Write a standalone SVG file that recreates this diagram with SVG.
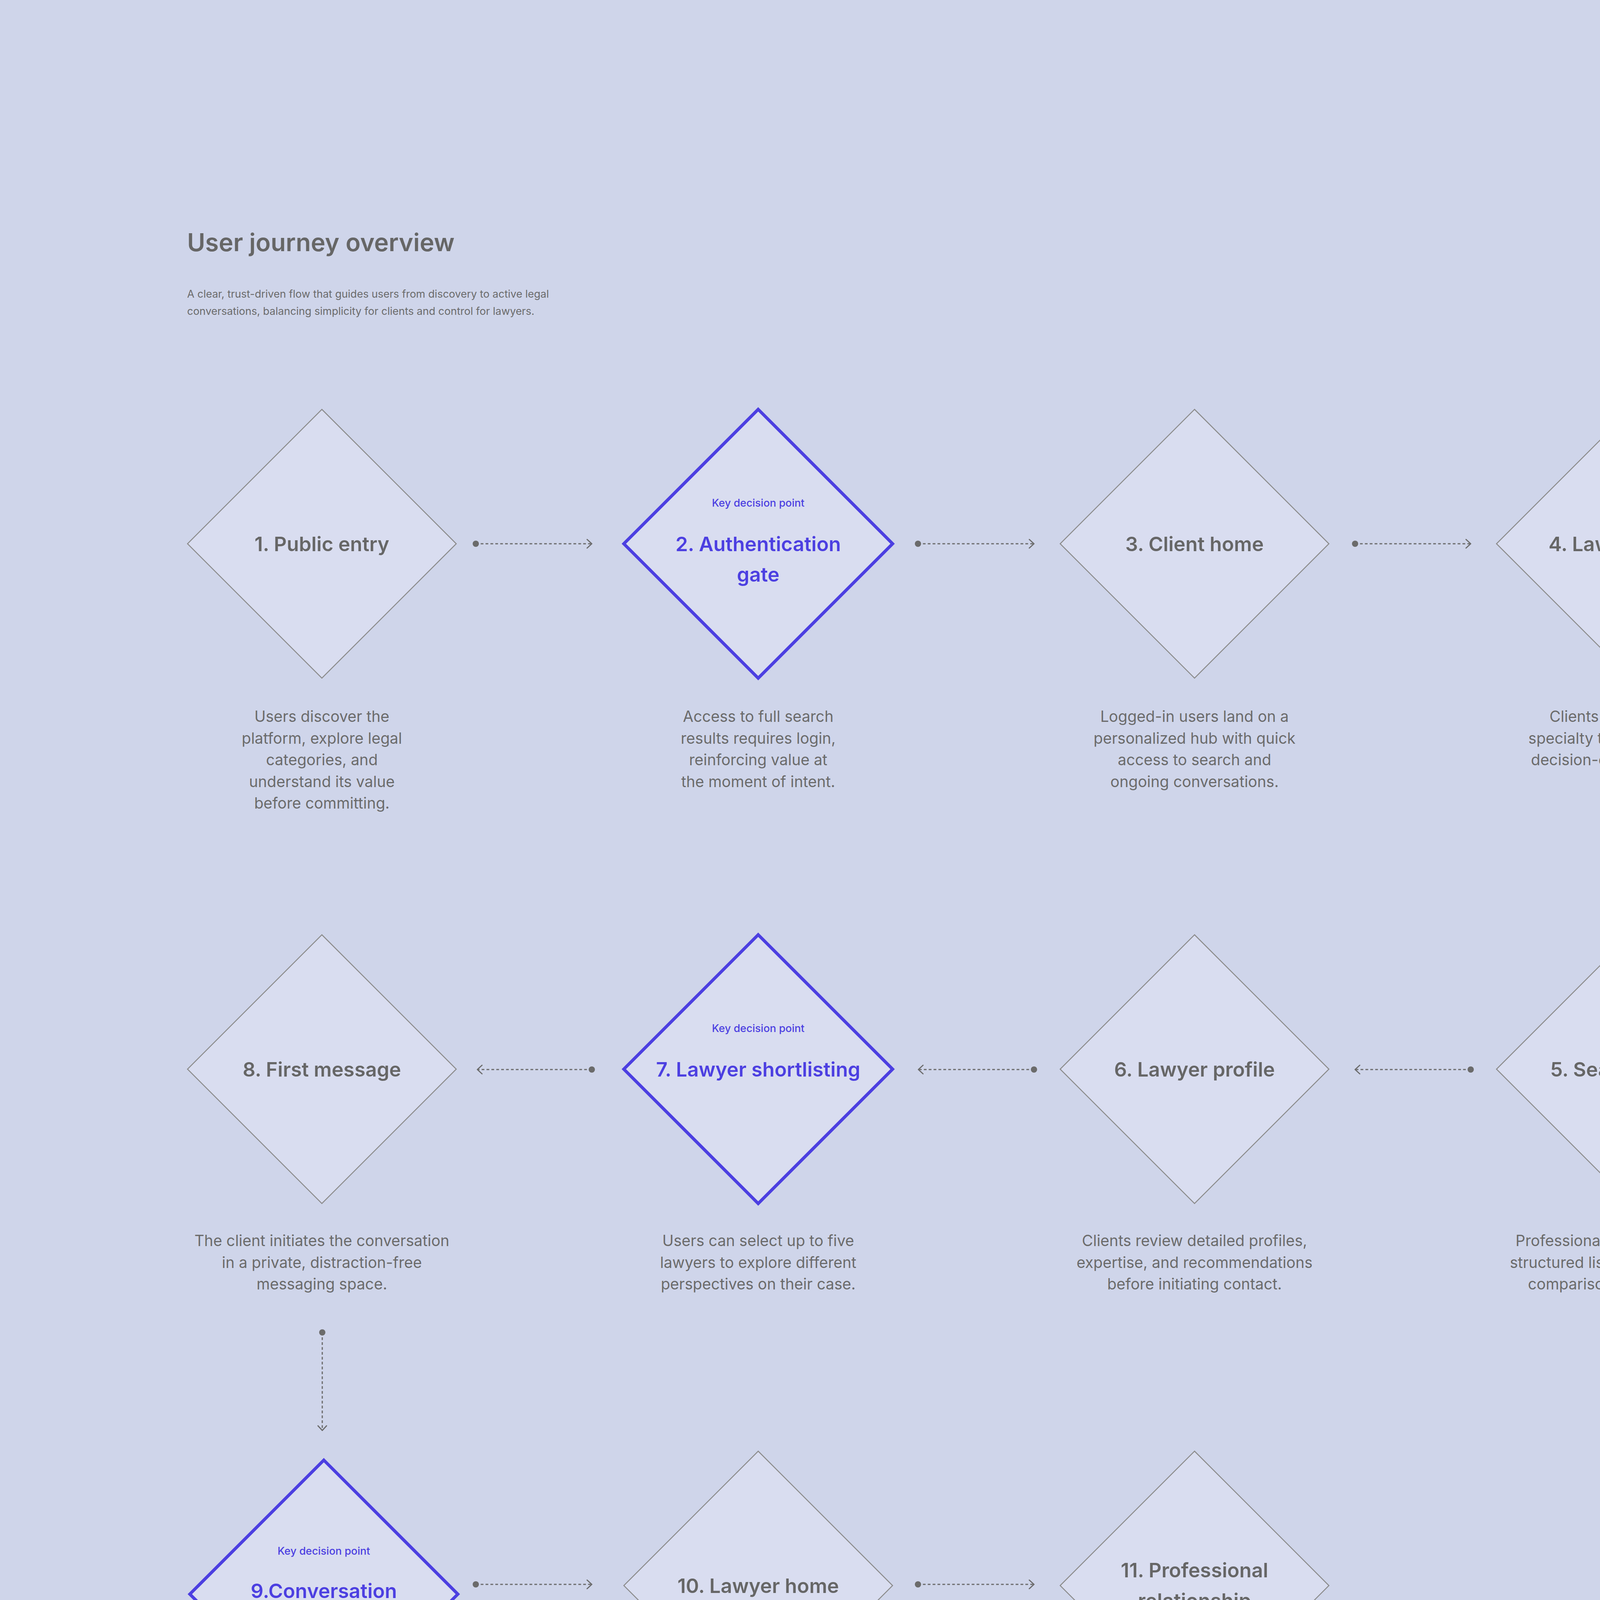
<svg xmlns="http://www.w3.org/2000/svg" width="5000" height="5234" viewBox="0 0 5000 5234">
<style>
.bg{fill:#cfd5ea}
.dia{fill:#d9ddf0;stroke:#8c8c8c;stroke-width:2.5}
.key{fill:#d9ddf0;stroke:#4c3fe1;stroke-width:8}
.lbl{font-family:Inter,"Liberation Sans",sans-serif;font-size:51px;font-weight:600;fill:#666666;text-anchor:middle}
.klbl{font-family:Inter,"Liberation Sans",sans-serif;font-size:51px;font-weight:600;fill:#4c3fe1;text-anchor:middle}
.ktag{font-family:Inter,"Liberation Sans",sans-serif;font-size:27px;font-weight:500;fill:#4c3fe1;text-anchor:middle}
.desc{font-family:Inter,"Liberation Sans",sans-serif;font-size:39px;font-weight:400;fill:#6b6b6b;text-anchor:middle}
.title{font-family:Inter,"Liberation Sans",sans-serif;font-size:63px;font-weight:600;fill:#666666}
.sub{font-family:Inter,"Liberation Sans",sans-serif;font-size:27px;font-weight:400;fill:#6b6b6b}
.conn{fill:none;stroke:#6b6b6b;stroke-width:3;stroke-dasharray:7 5.5;marker-start:url(#dot);marker-end:url(#arr)}
</style>
<defs>
<marker id="dot" markerUnits="userSpaceOnUse" markerWidth="20" markerHeight="20" viewBox="-10 -10 20 20" refX="0" refY="0" orient="auto">
<circle cx="0" cy="0" r="8" fill="#6b6b6b"/>
</marker>
<marker id="arr" markerUnits="userSpaceOnUse" markerWidth="30" markerHeight="30" viewBox="-15 -15 30 30" refX="0" refY="0" orient="auto">
<path d="M-12,-11 L0,0 L-12,11" fill="none" stroke="#6b6b6b" stroke-width="3" stroke-linecap="round" stroke-linejoin="round"/>
</marker>
</defs>
<rect class="bg" x="0" y="0" width="5000" height="5234"/>

<g id="header">
<text class="title" x="479" y="643">User journey overview</text>
<text class="sub" x="479" y="762">A clear, trust-driven flow that guides users from discovery to active legal</text>
<text class="sub" x="479" y="806">conversations, balancing simplicity for clients and control for lawyers.</text>
</g>

<g id="connectors">
<path class="conn" d="M1218,1392 L1515,1392"/>
<path class="conn" d="M2350,1392 L2647,1392"/>
<path class="conn" d="M3469,1392 L3765,1392"/>
<path class="conn" d="M4175,2002 L4175,2297"/>
<path class="conn" d="M3765,2738 L3469,2738"/>
<path class="conn" d="M2647,2738 L2351,2738"/>
<path class="conn" d="M1515,2738 L1222,2738"/>
<path class="conn" d="M825,3411 L825,3662"/>
<path class="conn" d="M1218,4056 L1515,4056"/>
<path class="conn" d="M2350,4056 L2647,4056"/>
</g>

<g id="node1">
<path class="dia" d="M824,1048 L1168,1392 L824,1736 L480,1392 Z"/>
<text class="lbl" x="824" y="1411">1. Public entry</text>
<text class="desc" x="824" y="1848">Users discover the</text>
<text class="desc" x="824" y="1903.5">platform, explore legal</text>
<text class="desc" x="824" y="1959">categories, and</text>
<text class="desc" x="824" y="2014.5">understand its value</text>
<text class="desc" x="824" y="2070">before committing.</text>
</g>

<g id="node2">
<path class="key" d="M1941,1048 L2285,1392 L1941,1736 L1597,1392 Z"/>
<text class="ktag" x="1941" y="1297">Key decision point</text>
<text class="klbl" x="1941" y="1411">2. Authentication</text>
<text class="klbl" x="1941" y="1489">gate</text>
<text class="desc" x="1941" y="1848">Access to full search</text>
<text class="desc" x="1941" y="1903.5">results requires login,</text>
<text class="desc" x="1941" y="1959">reinforcing value at</text>
<text class="desc" x="1941" y="2014.5">the moment of intent.</text>
</g>

<g id="node3">
<path class="dia" d="M3058,1048 L3402,1392 L3058,1736 L2714,1392 Z"/>
<text class="lbl" x="3058" y="1411">3. Client home</text>
<text class="desc" x="3058" y="1848">Logged-in users land on a</text>
<text class="desc" x="3058" y="1903.5">personalized hub with quick</text>
<text class="desc" x="3058" y="1959">access to search and</text>
<text class="desc" x="3058" y="2014.5">ongoing conversations.</text>
</g>

<g id="node4">
<path class="dia" d="M4175,1048 L4519,1392 L4175,1736 L3831,1392 Z"/>
<text class="lbl" x="4175" y="1411">4. Lawyer search</text>
<text class="desc" x="4175" y="1848">Clients search by legal</text>
<text class="desc" x="4175" y="1903.5">specialty through a focused,</text>
<text class="desc" x="4175" y="1959">decision-oriented interface.</text>
</g>

<g id="node5">
<path class="dia" d="M4175,2393 L4519,2737 L4175,3081 L3831,2737 Z"/>
<text class="lbl" x="4175" y="2756">5. Search results</text>
<text class="desc" x="4175" y="3190">Professionals are presented in a</text>
<text class="desc" x="4175" y="3245.5">structured list that supports quick</text>
<text class="desc" x="4175" y="3301">comparison and confidence.</text>
</g>

<g id="node6">
<path class="dia" d="M3058,2393 L3402,2737 L3058,3081 L2714,2737 Z"/>
<text class="lbl" x="3058" y="2756">6. Lawyer profile</text>
<text class="desc" x="3058" y="3190">Clients review detailed profiles,</text>
<text class="desc" x="3058" y="3245.5">expertise, and recommendations</text>
<text class="desc" x="3058" y="3301">before initiating contact.</text>
</g>

<g id="node7">
<path class="key" d="M1941,2393 L2285,2737 L1941,3081 L1597,2737 Z"/>
<text class="ktag" x="1941" y="2642">Key decision point</text>
<text class="klbl" x="1941" y="2756">7. Lawyer shortlisting</text>
<text class="desc" x="1941" y="3190">Users can select up to five</text>
<text class="desc" x="1941" y="3245.5">lawyers to explore different</text>
<text class="desc" x="1941" y="3301">perspectives on their case.</text>
</g>

<g id="node8">
<path class="dia" d="M824,2393 L1168,2737 L824,3081 L480,2737 Z"/>
<text class="lbl" x="824" y="2756">8. First message</text>
<text class="desc" x="824" y="3190">The client initiates the conversation</text>
<text class="desc" x="824" y="3245.5">in a private, distraction-free</text>
<text class="desc" x="824" y="3301">messaging space.</text>
</g>

<g id="node9">
<path class="key" d="M829,3738 L1172,4081 L829,4424 L486,4081 Z"/>
<text class="ktag" x="829" y="3980">Key decision point</text>
<text class="klbl" x="829" y="4091">9.Conversation</text>
<text class="klbl" x="829" y="4169">approval</text>
<text class="desc" x="824" y="4513">Lawyers review the</text>
<text class="desc" x="824" y="4568.5">request and accept the</text>
<text class="desc" x="824" y="4624">conversation with clear</text>
<text class="desc" x="824" y="4679.5">commercial terms.</text>
</g>

<g id="node10">
<path class="dia" d="M1941,3715 L2285,4059 L1941,4403 L1597,4059 Z"/>
<text class="lbl" x="1941" y="4078">10. Lawyer home</text>
<text class="desc" x="1941" y="4513">Professionals manage</text>
<text class="desc" x="1941" y="4568.5">conversations and clients</text>
<text class="desc" x="1941" y="4624">from an organized, work-</text>
<text class="desc" x="1941" y="4679.5">focused dashboard.</text>
</g>

<g id="node11">
<path class="dia" d="M3058,3715 L3402,4059 L3058,4403 L2714,4059 Z"/>
<text class="lbl" x="3058" y="4038">11. Professional</text>
<text class="lbl" x="3058" y="4116">relationship</text>
<text class="desc" x="3058" y="4513">Client and lawyer communicate</text>
<text class="desc" x="3058" y="4568.5">directly, turning intent into a</text>
<text class="desc" x="3058" y="4624">professional relationship.</text>
</g>
</svg>
